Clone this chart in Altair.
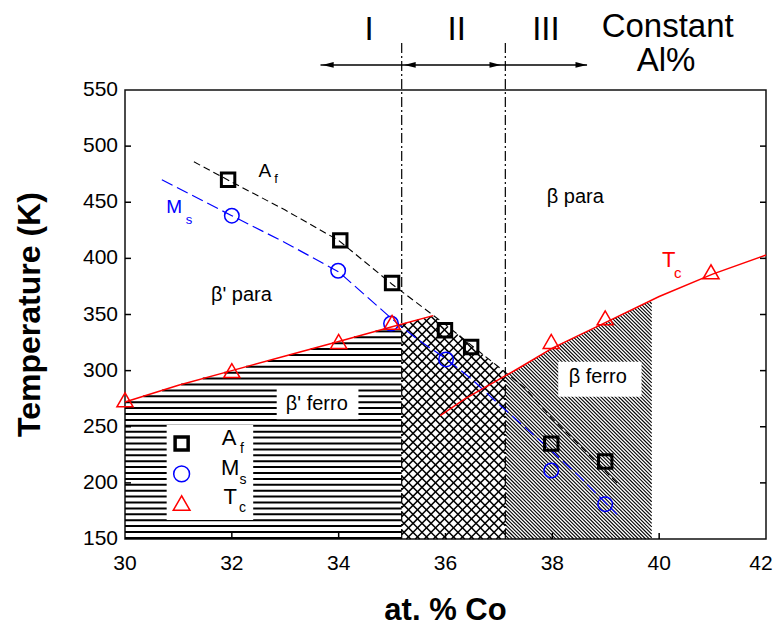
import altair as alt
import numpy as np
import pandas as pd

# ---------------- values ----------------
# measured points
af_x = [31.93, 34.03, 35.00, 35.99, 36.48, 37.98, 38.99]
af_T = [470, 416, 378, 336, 321, 235, 219]
ms_x = [32.00, 33.99, 34.98, 36.01, 37.98, 38.99]
ms_T = [438, 389, 342, 310, 211, 181]
tc_x = [30.00, 32.00, 34.00, 35.00, 37.98, 38.99, 40.97]
tc_T = [274, 300, 326, 343, 326, 347, 388]

# hand-drawn guide curves
afl_x = [31.29, 32.0, 33.0, 34.0, 35.0, 35.5, 36.0, 36.5, 37.0, 37.5, 38.0, 38.5, 39.0, 39.27]
afl_T = [486, 468, 443, 416, 377, 359, 341, 322, 303, 284, 257, 234, 210, 197]
msl_x = [30.69, 32.0, 33.0, 34.0, 35.0, 35.5, 36.0, 36.5, 37.0, 37.5, 38.0, 38.5, 39.0, 39.21]
msl_T = [470, 438, 414, 388, 346, 327, 311, 292, 270, 249, 228, 206, 182, 172]
tcl_x = [30.0, 31.0, 32.0, 33.0, 34.0, 35.0, 35.77]
tcl_T = [272, 287, 300, 313, 326, 339, 349]
tcr_x = [35.9, 36.37, 37.4, 38.0, 39.0, 40.0, 41.0, 42.0]
tcr_T = [260, 275, 303, 320, 343, 366, 386, 403]

# region boundaries (at. % Co)
bound_x = [35.18, 37.12]
region_I = [30.0, 35.18]
region_II = [35.18, 37.12]
region_III = [37.12, 39.86]

x_ticks = [30, 32, 34, 36, 38, 40, 42]
y_ticks = [150, 200, 250, 300, 350, 400, 450, 500, 550]
x_title = ["at. % Co"]
y_title = ["Temperature (K)"]

# label boxes (white patches in the hatching)
box_x = [30.78, 32.84, 38.11]
box_x2 = [32.40, 34.37, 39.67]
box_T = [167, 256.6, 276.8]
box_T2 = [251.6, 286.3, 307.9]

# phase labels
lab_text = ["β' para", "β  para", "β' ferro", "β ferro"]
lab_x = [32.18, 38.43, 33.59, 38.85]
lab_T = [367.4, 455.0, 270.3, 293.9]

# curve labels (letter + subscript)
cl_text = ["A", "M", "T", "A", "M", "T"]
cl_x = [32.62, 30.92, 40.18, 31.95, 31.97, 31.97]
cl_T = [477.8, 446.0, 398.6, 239.7, 213.0, 187.7]
cl_col = ["black", "blue", "red", "black", "black", "black"]
cl_fs = [19, 19, 22, 22, 22, 22]
sub_text = ["f", "s", "c", "f", "s", "c"]
sub_x = [32.83, 31.20, 40.35, 32.19, 32.21, 32.20]
sub_T = [470.7, 434.0, 387.4, 230.2, 202.6, 178.0]
sub_col = ["black", "blue", "red", "black", "black", "black"]
sub_fs = [13, 13, 15, 14, 14, 14]

# legend symbols
leg_x = [31.06, 31.06, 31.06]
leg_T = [235, 208, 182]

# header annotations
top_text = ["I", "II", "III", "Constant", "Al%"]
top_x = [34.57, 36.21, 37.88, 40.16, 40.13]
top_T = [603.5, 603.5, 603.5, 606.0, 575.8]
top_fs = [33, 33, 33, 33, 33]
arrow_T = 572.3
arrow_x = [33.66, 38.65]
head_x = [33.80, 35.335, 36.93, 38.54]
head_dir = ["L", "L", "R", "R"]
bound_top_T = 594.5

# ---------------- chart ----------------
W, H = 641, 449
X_DOM = [30, 42]
Y_DOM = [150, 550]
kx = W / (X_DOM[1] - X_DOM[0])
ky = H / (Y_DOM[1] - Y_DOM[0])
FONT = "Liberation Sans"

xs = alt.Scale(domain=X_DOM, nice=False, zero=False)
ys = alt.Scale(domain=Y_DOM, nice=False, zero=False)


def XQ(f):
    return alt.X(f, type="quantitative", scale=xs, axis=None)


def YQ(f):
    return alt.Y(f, type="quantitative", scale=ys, axis=None)


def hatch(x_lo, x_hi, top, slope_px, period_px, start=None):
    grid = np.linspace(x_lo, x_hi, 4001)
    tops = top(grid)
    s = slope_px * kx / ky
    step = period_px / ky
    span = abs(s) * (x_hi - x_lo)
    b0 = Y_DOM[0] + 1 if start is None else start
    if slope_px > 0:
        b0 = Y_DOM[0] - span
    b_vals = np.arange(b0, tops.max() + span + step, step)
    rows = []
    for b in b_vals:
        T = b + s * (grid - x_lo)
        m = (T <= tops) & (T >= Y_DOM[0])
        idx = np.nonzero(m)[0]
        if len(idx) < 2:
            continue
        i1, i2 = idx[0], idx[-1]
        rows.append(dict(x=grid[i1], y=T[i1], x2=grid[i2], y2=T[i2]))
    return pd.DataFrame(rows)


top_I = lambda x: np.interp(x, tcl_x, tcl_T)
top_II = lambda x: np.minimum(np.interp(x, tcl_x, tcl_T, right=1e9), np.interp(x, afl_x, afl_T))
top_III = lambda x: np.interp(x, tcr_x, tcr_T)

h_I = hatch(region_I[0], region_I[1], top_I, 0, 5.9, start=151)
h_IIa = hatch(region_II[0], region_II[1], top_II, 1, 9.0)
h_IIb = hatch(region_II[0], region_II[1], top_II, -1, 9.0, start=Y_DOM[0])
h_III = hatch(region_III[0], region_III[1], top_III, -1, 3.6, start=Y_DOM[0])


def rules(df, width):
    return alt.Chart(df).mark_rule(color="black", strokeWidth=width).encode(
        x=XQ("x"), x2="x2:Q", y=YQ("y"), y2="y2:Q")


boxes = alt.Chart(pd.DataFrame({"x": box_x, "x2": box_x2, "y": box_T, "y2": box_T2})).mark_rect(
    fill="white").encode(x=XQ("x"), x2="x2:Q", y=YQ("y"), y2="y2:Q")

bounds = alt.Chart(pd.DataFrame({"x": bound_x, "y": [Y_DOM[0]] * 2, "y2": [bound_top_T] * 2})).mark_rule(
    color="black", strokeWidth=1.2, strokeDash=[10, 3, 2, 3]).encode(
    x=XQ("x"), y=YQ("y"), y2="y2:Q")

arrow = alt.Chart(pd.DataFrame({"x": [arrow_x[0]], "x2": [arrow_x[1]], "y": [arrow_T]})).mark_rule(
    color="black", strokeWidth=1.5).encode(x=XQ("x"), x2="x2:Q", y=YQ("y"))
heads = alt.Chart(pd.DataFrame({"x": head_x, "y": [arrow_T] * 4, "d": head_dir})).mark_point(
    filled=True, color="black", size=130, opacity=1).encode(
    x=XQ("x"), y=YQ("y"),
    shape=alt.Shape("d:N", scale=alt.Scale(domain=["L", "R"],
                    range=["M -1 0 L 1 -0.5 L 1 0.5 Z", "M 1 0 L -1 -0.5 L -1 0.5 Z"]), legend=None))


def curve(xv, tv, color, width, dash=None):
    kw = dict(color=color, strokeWidth=width)
    if dash:
        kw["strokeDash"] = dash
    return alt.Chart(pd.DataFrame({"x": xv, "T": tv})).mark_line(**kw).encode(x=XQ("x"), y=YQ("T"))


af_line = curve(afl_x, afl_T, "black", 1.1, [7, 4])
ms_line = curve(msl_x, msl_T, "blue", 1.2, [12, 5])
tcl_line = curve(tcl_x, tcl_T, "red", 1.5)
tcr_line = curve(tcr_x, tcr_T, "red", 1.5)


def pts(xv, tv, shape, color, sw, size):
    return alt.Chart(pd.DataFrame({"x": xv, "T": tv})).mark_point(
        shape=shape, filled=False, color=color, strokeWidth=sw, size=size, opacity=1).encode(
        x=XQ("x"), y=YQ("T"))


af_pts = pts(af_x, af_T, "square", "black", 3, 180)
ms_pts = pts(ms_x, ms_T, "circle", "blue", 1.5, 210)
tc_pts = pts(tc_x, tc_T, "triangle-up", "red", 1.5, 260)
leg_sq = pts(leg_x[:1], leg_T[:1], "square", "black", 3.5, 170)
leg_ci = pts(leg_x[1:2], leg_T[1:2], "circle", "blue", 1.5, 250)
leg_tr = pts(leg_x[2:], leg_T[2:], "triangle-up", "red", 1.5, 280)


def texts(txt, xv, tv, cols, fss, **mk):
    df = pd.DataFrame({"t": txt, "x": xv, "T": tv, "c": cols, "fs": fss})
    return alt.Chart(df).mark_text(font=FONT, baseline="middle", align="center", **mk).encode(
        x=XQ("x"), y=YQ("T"), text="t:N",
        color=alt.Color("c:N", scale=None), size=alt.Size("fs:Q", scale=None))


phase_labels = texts(lab_text, lab_x, lab_T, ["black"] * 4, [20] * 4)
curve_labels = texts(cl_text, cl_x, cl_T, cl_col, cl_fs)
sub_labels = texts(sub_text, sub_x, sub_T, sub_col, sub_fs)
top_labels = texts(top_text, top_x, top_T, ["black"] * 5, top_fs)


# axes: tick labels and titles positioned through the scales
def x_lab(vals, dx):
    return alt.Chart(pd.DataFrame({"v": vals})).mark_text(
        font=FONT, fontSize=21, baseline="top", align="center", color="black", dx=dx).encode(
        x=XQ("v"), y=alt.value(H + 14), text=alt.Text("v:Q", format="d"))


x_labels = x_lab(x_ticks[:-1], 0)
x_labels_last = x_lab(x_ticks[-1:], -5)
y_labels = alt.Chart(pd.DataFrame({"v": y_ticks})).mark_text(
    font=FONT, fontSize=21, baseline="middle", align="right", color="black").encode(
    y=YQ("v"), x=alt.value(-7), text=alt.Text("v:Q", format="d"))
x_tl = alt.Chart(pd.DataFrame({"t": x_title})).mark_text(
    font=FONT, fontSize=31, fontWeight="bold", baseline="middle", align="center", color="black").encode(
    x=alt.value(W / 2), y=alt.value(H + 72), text="t:N")
y_tl = alt.Chart(pd.DataFrame({"t": y_title})).mark_text(
    font=FONT, fontSize=32, fontWeight="bold", baseline="middle", align="center", color="black",
    angle=270).encode(x=alt.value(-95), y=alt.value(H / 2), text="t:N")

# inner tick marks
tick_b = alt.Chart(pd.DataFrame({"x": x_ticks[1:-1]})).mark_rule(color="black", strokeWidth=1.5).encode(
    x=XQ("x"), y=alt.value(H), y2=alt.value(H - 6))
tick_l = alt.Chart(pd.DataFrame({"T": y_ticks[1:-1]})).mark_rule(color="black", strokeWidth=1.5).encode(
    y=YQ("T"), x=alt.value(0), x2=alt.value(6))
tick_r = alt.Chart(pd.DataFrame({"T": y_ticks[1:-1]})).mark_rule(color="black", strokeWidth=1.5).encode(
    y=YQ("T"), x=alt.value(W), x2=alt.value(W - 6))

chart = alt.layer(
    rules(h_I, 2.0), rules(h_IIa, 1.5), rules(h_IIb, 1.5), rules(h_III, 1.1),
    boxes, bounds, arrow, heads,
    af_line, ms_line, tcl_line, tcr_line,
    af_pts, ms_pts, tc_pts, leg_sq, leg_ci, leg_tr,
    phase_labels, curve_labels, sub_labels, top_labels,
    x_labels, x_labels_last, y_labels, x_tl, y_tl,
    tick_b, tick_l, tick_r,
).properties(
    width=W, height=H,
    autosize=alt.AutoSizeParams(type="none"),
    padding={"left": 117, "top": 82, "right": 7, "bottom": 89},
    background="white",
).configure_view(stroke="#111", strokeWidth=1.5)

chart.save("out.html", embed_options={"renderer": "svg", "actions": False})
